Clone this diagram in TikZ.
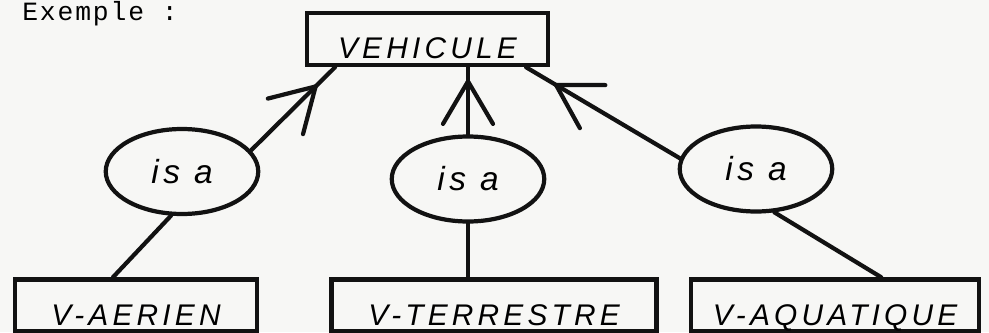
\documentclass[tikz,border=0pt]{standalone}
\usepackage{fontspec}
\usepackage{xcolor}
\setmainfont{Liberation Sans}
\newfontfamily\handfont[LetterSpace=14]{Liberation Sans}
\newfontfamily\typefont[LetterSpace=7]{Liberation Mono}
\definecolor{cInk}{HTML}{121212}
\definecolor{cPaper}{HTML}{F7F7F5}
\usetikzlibrary{positioning,arrows.meta,shapes.geometric,decorations.markings}
\tikzset{
  node-box/.style={draw=cInk,line width=2.6pt,minimum height=10.4mm,
    inner sep=1mm,text height=7.8mm,text depth=0pt,
    font=\handfont\itshape\fontsize{17}{20}\selectfont},
  node-isa/.style={draw=cInk,line width=2.4pt,ellipse,minimum width=30.5mm,
    minimum height=17mm,inner sep=0pt,
    font=\handfont\itshape\fontsize{19}{22}\selectfont},
  link/.style={draw=cInk,line width=2.4pt,line cap=round},
  arrow-isa/.style={link,postaction={decorate},decoration={markings,
    mark=at position #1 with {\arrow{Straight Barb[length=8.5mm,width=10mm,round]}}}},
}

\begin{document}
\begin{tikzpicture}
  \path[use as bounding box,fill=cPaper] (0,0) rectangle (19.78,-6.64);
  \node[anchor=base west,inner sep=0pt,font=\typefont\fontsize{15}{18}\selectfont]
    (titre) at (0.44,-0.40) {Exemple :};
  \node[node-box,minimum width=48.2mm] (vehicule) at (8.55,-0.78) {VEHICULE};
  \node[node-isa] (isa-air)   at (3.64,-3.43) {is a};
  \node[node-isa] (isa-terre) at (9.36,-3.58) {is a};
  \node[node-isa] (isa-eau)   at (15.12,-3.38) {is a};
  \node[node-box,minimum width=48.4mm] (aerien) at (2.72,-6.11) {V-AERIEN};
  \node[node-box,minimum width=65mm,right=14mm of aerien] (terrestre) {V-TERRESTRE};
  \node[node-box,minimum width=57.6mm,right=6mm of terrestre] (aquatique) {V-AQUATIQUE};
  \draw[arrow-isa=-5mm]   (isa-air.17) -- (vehicule.197);
  \draw[arrow-isa=-2.4mm] (isa-terre.north) -- (isa-terre.north |- vehicule.south);
  \draw[arrow-isa=-6.5mm] (isa-eau.172) -- (vehicule.344);
  \draw[link] (isa-air.256) -- ([xshift=-4.6mm]aerien.north);
  \draw[link] (isa-terre.south) -- (isa-terre.south |- terrestre.north);
  \draw[link] (isa-eau.293) -- ([xshift=9.2mm]aquatique.north);
\end{tikzpicture}
\end{document}
